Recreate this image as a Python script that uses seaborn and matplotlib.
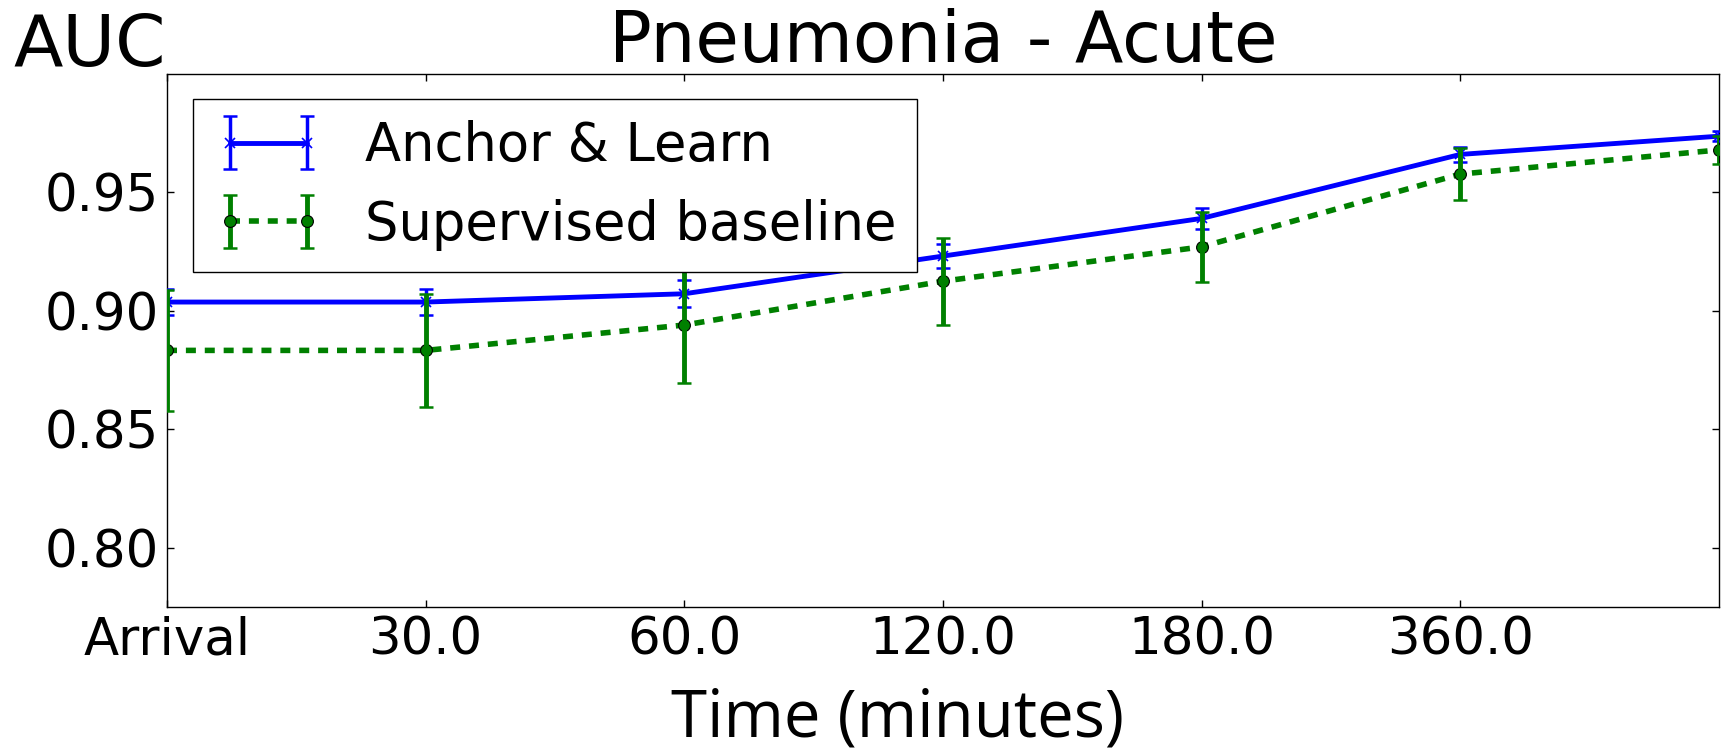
import matplotlib
matplotlib.use("Agg")
import matplotlib.pyplot as plt
import seaborn as sns
import pandas as pd
import numpy as np
from matplotlib.legend_handler import HandlerTuple

# ---- data ----
time_index = [0, 1, 2, 3, 4, 5, 6]
tick_labels = ["Arrival", "30.0", "60.0", "120.0", "180.0", "360.0"]
anchor_auc = [0.9036, 0.9036, 0.9071, 0.9230, 0.9389, 0.9659, 0.9736]
anchor_err = [0.0053, 0.0053, 0.0058, 0.0050, 0.0045, 0.0030, 0.0020]
sup_auc = [0.8832, 0.8832, 0.8939, 0.9124, 0.9269, 0.9576, 0.9678]
sup_err = [0.0255, 0.0240, 0.0244, 0.0183, 0.0148, 0.0108, 0.0060]
series_names = ["Anchor & Learn", "Supervised baseline"]
y_ticks = [0.80, 0.85, 0.90, 0.95]

sns.set_style("ticks")
plt.rcParams["font.family"] = ["DejaVu Sans"]
plt.rcParams["xtick.direction"] = "in"
plt.rcParams["ytick.direction"] = "in"
plt.rcParams["axes.edgecolor"] = "black"
plt.rcParams["axes.linewidth"] = 1.0
plt.rcParams["text.color"] = "black"
plt.rcParams["axes.labelcolor"] = "black"
plt.rcParams["xtick.color"] = "black"
plt.rcParams["ytick.color"] = "black"

fig = plt.figure(figsize=(17.27, 7.51), dpi=100)
ax = fig.add_axes([0.0967, 0.192, 0.8987, 0.71])

df = pd.DataFrame({
    "t": time_index * 2,
    "auc": anchor_auc + sup_auc,
    "series": [series_names[0]] * len(time_index) + [series_names[1]] * len(time_index),
})

d1 = df[df.series == series_names[0]]
d2 = df[df.series == series_names[1]]

sns.lineplot(data=d1, x="t", y="auc", ax=ax, color="blue", linewidth=3.5,
             marker="x", markersize=7, markeredgewidth=1.2, markeredgecolor="blue",
             legend=False, zorder=3)
sns.lineplot(data=d2, x="t", y="auc", ax=ax, color="green", linewidth=4,
             marker="o", markersize=8.5, markeredgecolor="black", markeredgewidth=0.8,
             legend=False, zorder=4)
line_a = ax.lines[0]
line_s = ax.lines[1]
line_s.set_dashes((1.8, 1.6))

eb_a = ax.errorbar(d1["t"], d1["auc"], yerr=anchor_err, fmt="none", ecolor="blue",
                   elinewidth=2.5, capsize=5, capthick=1.8, zorder=3)
eb_s = ax.errorbar(d2["t"], d2["auc"], yerr=sup_err, fmt="none", ecolor="green",
                   elinewidth=3.5, capsize=5, capthick=1.8, zorder=4)

leg = ax.legend([(eb_a, line_a), (eb_s, line_s)], series_names,
                handler_map={tuple: HandlerTuple(ndivide=1)},
                loc="upper left", bbox_to_anchor=(0.017, 0.952), borderaxespad=0,
                fontsize=38, numpoints=2, handlelength=2.05, handletextpad=0.8,
                fancybox=False, framealpha=1, edgecolor="black", borderpad=0.4,
                labelspacing=0.5)
leg.get_frame().set_linewidth(1.0)

ax.set_xlim(0, 6)
ax.set_ylim(0.775, 1.0)
ax.set_xticks(time_index[:len(tick_labels)])
ax.set_xticklabels(tick_labels)
ax.set_yticks(y_ticks)
ax.set_yticklabels([f"{v:.2f}" for v in y_ticks])
ax.tick_params(axis="both", labelsize=37, length=5, width=1, top=True, right=True, pad=6)
ax.set_xlabel("Time (minutes)", fontsize=47, family="Open Sans")
ax.xaxis.set_label_coords(0.471, -0.243, transform=ax.transAxes)
ax.xaxis.label.set_verticalalignment("baseline")
ax.set_ylabel("")
ax.set_title("Pneumonia - Acute", fontsize=51, pad=8)
fig.text(0.008, 0.912, "AUC", fontsize=52, ha="left", va="baseline")

fig.savefig("out.png", dpi=100)
